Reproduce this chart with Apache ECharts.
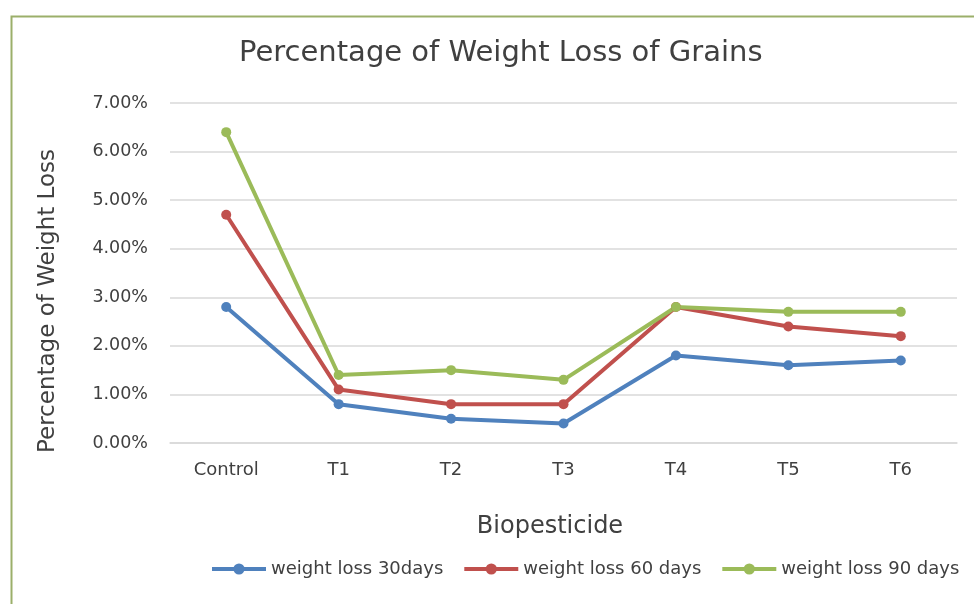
<!DOCTYPE html>
<html>
<head>
<meta charset="utf-8">
<script src="https://cdn.jsdelivr.net/npm/echarts@6/dist/echarts.min.js"></script>
<style>html,body{margin:0;padding:0;background:#fff}#c{width:974px;height:604px}</style>
</head>
<body>
<div id="c"></div>
<script>
const categories = ['Control', 'T1', 'T2', 'T3', 'T4', 'T5', 'T6'];
const seriesNames = ['weight loss 30days', 'weight loss 60 days', 'weight loss 90 days'];
const loss30 = [2.8, 0.8, 0.5, 0.4, 1.8, 1.6, 1.7];
const loss60 = [4.7, 1.1, 0.8, 0.8, 2.8, 2.4, 2.2];
const loss90 = [6.4, 1.4, 1.5, 1.3, 2.8, 2.7, 2.7];
const colors = ['#4F81BD', '#C0504D', '#9BBB59'];
const font = '"DejaVu Sans", Verdana, sans-serif';

const chart = echarts.init(document.getElementById('c'));
const mk = (name, data, color) => ({
  name, type: 'line', data, color,
  symbol: 'circle', symbolSize: 10,
  lineStyle: { width: 4, color },
  itemStyle: { color },
  emphasis: { disabled: true }
});
chart.setOption({
  animation: false,
  backgroundColor: '#fff',
  textStyle: { fontFamily: font },
  graphic: [{
    type: 'rect', left: 9, top: 14,
    shape: { width: 1000, height: 620 },
    style: { fill: 'none', stroke: '#9BAF6A', lineWidth: 2 },
    z: 100
  }],
  title: {
    text: 'Percentage of Weight Loss of Grains',
    left: 234, top: 34,
    textStyle: { fontFamily: font, fontSize: 29, fontWeight: 'normal', color: '#404040' }
  },
  legend: {
    top: 555, left: 205,
    itemWidth: 54, itemHeight: 14, itemGap: 19,
    data: seriesNames,
    lineStyle: { width: 4 },
    textStyle: { fontFamily: font, fontSize: 18, color: '#404040' }
  },
  grid: { left: 170, right: 17, top: 103, bottom: 161 },
  xAxis: {
    type: 'category', data: categories, boundaryGap: true,
    name: 'Biopesticide', nameLocation: 'middle', nameGap: 72,
    nameTextStyle: { fontFamily: font, fontSize: 24, color: '#404040', padding: [0, 27, 0, 0] },
    axisLine: { show: true, lineStyle: { color: '#D9D9D9', width: 1.5 } },
    axisTick: { show: false },
    axisLabel: { fontFamily: font, fontSize: 18, color: '#404040', margin: 18 }
  },
  yAxis: {
    type: 'value', min: 0, max: 7, interval: 1,
    name: 'Percentage of Weight Loss', nameLocation: 'middle', nameGap: 110, nameRotate: 90,
    nameTextStyle: { fontFamily: font, fontSize: 23, color: '#404040', padding: [0, 56, 0, 0] },
    axisLine: { show: false }, axisTick: { show: false },
    axisLabel: { fontFamily: font, fontSize: 17.5, color: '#404040', margin: 22,
      formatter: v => v.toFixed(2) + '%' },
    splitLine: { lineStyle: { color: '#D9D9D9', width: 1.5 } }
  },
  series: [mk(seriesNames[0], loss30, colors[0]), mk(seriesNames[1], loss60, colors[1]), mk(seriesNames[2], loss90, colors[2])]
});
</script>
</body>
</html>
